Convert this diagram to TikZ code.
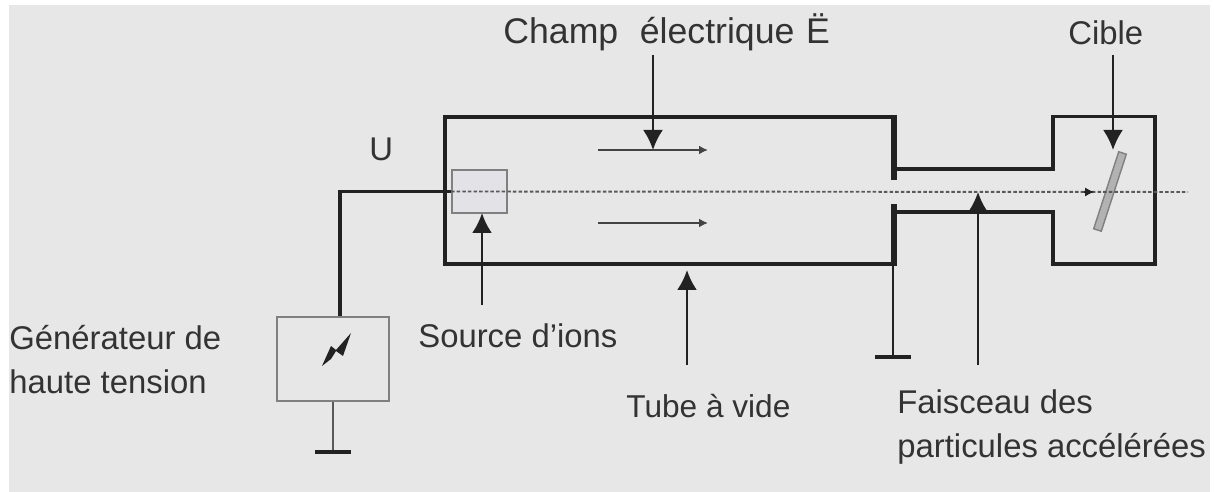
\documentclass[tikz,border=0pt]{standalone}
\usepackage{fontspec}
\setmainfont{Liberation Sans}
\usetikzlibrary{arrows.meta}
\definecolor{fond}{HTML}{E7E7E7}
\definecolor{trait}{HTML}{222222}
\definecolor{texte}{HTML}{333333}
\tikzset{
	epais/.style={draw=trait,line width=2.2pt},
	mince/.style={draw=trait,line width=1.4pt},
	fleche/.style={mince,-{Latex[length=4mm,width=4mm]}},
	champ/.style={draw=trait!85,line width=1.1pt,-{Latex[length=1.8mm,width=1.8mm]}},
	masse/.style={draw=trait,line width=2pt},
	legende/.style={text=texte,inner sep=0pt,font=\fontsize{18.7}{25}\selectfont},
}
\begin{document}
\begin{tikzpicture}[x=0.02cm,y=-0.02cm]
	\useasboundingbox (0,0) rectangle (1214,492);
	%Background
	\fill [fond] (9,5) rectangle (1210,492);

	%Source and generator
	\node (source) [draw=gray,fill=blue!2!fond,line width=1.1pt,minimum width=1.1cm,minimum height=0.86cm,inner sep=0pt] at (479.5,191.5) {};
	\node (generateur) [draw=gray,line width=1.1pt,minimum width=2.24cm,minimum height=1.68cm,inner sep=0pt] at (333,359) {};
	\fill [trait] (322,366) -- (331,346) -- (336,350) -- (351,333) -- (343,356) -- (336,351) -- (331,359) -- cycle;

	%Draw the tube
	\draw [epais] (893,117) to (445,117) to (445,264) to (893,264);
	\draw [epais] (897,169) to (1053,169) to (1053,116.5) to (1155,116.5) to (1155,264) to (1053,264) to (1053,212) to (897,212);
	\draw [trait,line width=3.6pt] (894,115) to (894,180);
	\draw [trait,line width=3.6pt] (894,204) to (894,266);

	%Target
	\node (cible) [draw=gray,fill=gray!60,line width=0.8pt,minimum width=1.62cm,minimum height=0.16cm,inner sep=0pt,rotate=72] at (1110,191.5) {};

	%Beam
	\coordinate (sortie) at (1188,192);
	\coordinate (impact) at (1094,192);
	\draw [draw=trait!75,line width=1.1pt,dash pattern=on 2pt off 1.2pt] (source.west) to (sortie);
	\draw [draw=trait,line width=0.6pt,-{Latex[length=1.8mm,width=1.8mm]}] (1084,192) to (impact);

	%Wire and grounds
	\coordinate (coude) at (340,191.5);
	\coordinate (masseG) at (333,452);
	\coordinate (masseD) at (893,357);
	\draw [epais,line width=1.8pt] (generateur.north -| coude) to (coude) to (source.west);
	\draw [draw=trait!75,line width=1.3pt] (generateur.south) to (masseG);
	\draw [masse] ([xshift=-0.36cm]masseG) to ([xshift=0.36cm]masseG);
	\draw [mince,line width=1.1pt] (893,264) to (masseD);
	\draw [masse] ([xshift=-0.36cm]masseD) to ([xshift=0.36cm]masseD);

	%Field lines
	\draw [champ] (598,150) to (708,150);
	\draw [champ] (598,223) to (708,223);

	%Labels
	\node (titre) [legende,font=\fontsize{20.3}{25}\selectfont,anchor=base west] at (503,44) {Champ\ \ \kern1pt électrique\kern1pt\ Ë};
	\node (nomcible) [legende,anchor=base west] at (1068,45) {Cible};
	\node (tension) [legende,anchor=base west] at (369,161) {U};
	\node (nomgen) [legende,anchor=west,align=left] at (9,360) {Générateur de\\haute tension};
	\node (nomsource) [legende,anchor=base west] at (418,348) {Source d'ions};
	\node (nomtube) [legende,font=\fontsize{18}{25}\selectfont,anchor=base west] at (626,418) {Tube à vide};
	\node (nomfais) [legende,anchor=west,align=left] at (897,427) {Faisceau des\\particules accélérées};

	%Pointers
	\draw [fleche] (653,55) to (653,150);
	\draw [fleche] (1113,55) to (1113,150);
	\draw [fleche] (482,305) to (482,213);
	\draw [fleche] (687,365) to (687,270);
	\draw [fleche] (978,365) to (978,192);
\end{tikzpicture}
\end{document}
